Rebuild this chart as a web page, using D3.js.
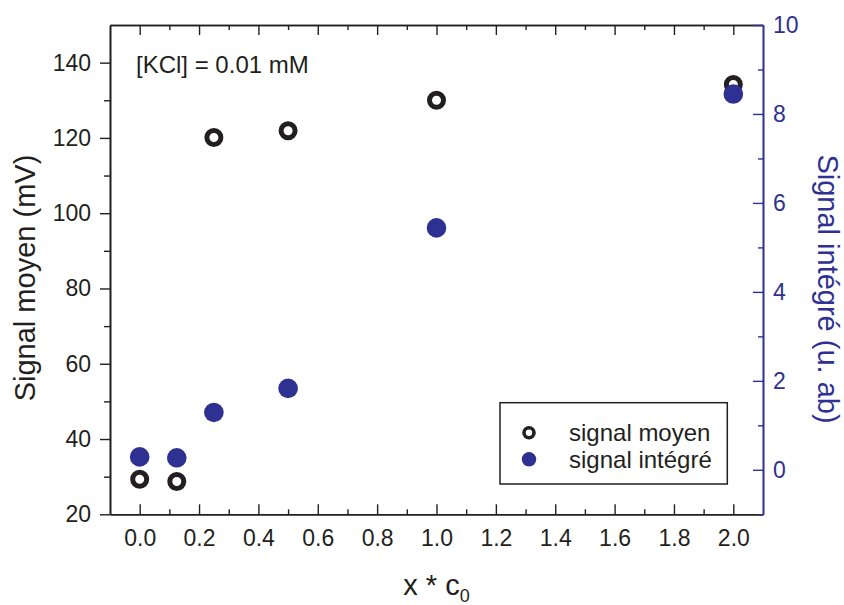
<!DOCTYPE html>
<html>
<head>
<meta charset="utf-8">
<script src="https://cdn.jsdelivr.net/npm/d3@7"></script>
<style>
  html, body { margin: 0; padding: 0; background: #fff; }
  svg { display: block; font-family: "Liberation Sans", Arial, Helvetica, sans-serif; }
</style>
</head>
<body>
<svg id="chart" width="844" height="605"></svg>
<script>
// ---- data ----
const xValues = [0, 0.125, 0.25, 0.5, 1.0, 2.0];
const signalMoyen = [29.3, 28.7, 120.1, 121.9, 130.0, 134.2];
const signalIntegre = [0.29, 0.27, 1.29, 1.83, 5.44, 8.45];
const xTicks = [0, 0.2, 0.4, 0.6, 0.8, 1.0, 1.2, 1.4, 1.6, 1.8, 2.0];
const xMinorTicks = [0.1, 0.3, 0.5, 0.7, 0.9, 1.1, 1.3, 1.5, 1.7, 1.9];
const yLeftTicks = [20, 40, 60, 80, 100, 120, 140];
const yLeftMinor = [30, 50, 70, 90, 110, 130];
const yRightTicks = [0, 2, 4, 6, 8, 10];
const yRightMinor = [-1, 1, 3, 5, 7, 9];
const seriesNames = ["signal moyen", "signal intégré"];
const annotation = "[KCl] = 0.01 mM";

const dark = "#231f20";
const blue = "#2e3192";

const svg = d3.select("#chart");
const L = 110, R = 763, T = 25, B = 514.3;

const x = d3.scaleLinear().domain([-0.1, 2.1]).range([L, R]);
const yL = d3.scaleLinear().domain([20, 150]).range([B, T]);
const yR = d3.scaleLinear().domain([-1, 10]).range([B, T]);

function style(g, color, fs) {
  g.selectAll("path.domain").attr("stroke", color).attr("stroke-width", 1.6);
  g.selectAll(".tick line").attr("stroke", color).attr("stroke-width", 1.4);
  g.selectAll(".tick text").attr("fill", color).attr("font-size", fs)
    .attr("font-family", "'Liberation Sans', Arial, Helvetica, sans-serif");
}

// bottom axis
const gB = svg.append("g").attr("transform", `translate(0,${B})`)
  .call(d3.axisBottom(x).tickValues(xTicks).tickFormat(d3.format(".1f")).tickSize(-10).tickPadding(15).tickSizeOuter(0));
style(gB, dark, 23);
const gBm = svg.append("g").attr("transform", `translate(0,${B})`)
  .call(d3.axisBottom(x).tickValues(xMinorTicks).tickFormat("").tickSize(-5).tickSizeOuter(0));
style(gBm, dark, 23);

// top axis
const gT = svg.append("g").attr("transform", `translate(0,${T})`)
  .call(d3.axisTop(x).tickValues(xTicks).tickFormat("").tickSize(-10).tickSizeOuter(0));
style(gT, dark, 23);
const gTm = svg.append("g").attr("transform", `translate(0,${T})`)
  .call(d3.axisTop(x).tickValues(xMinorTicks).tickFormat("").tickSize(-5).tickSizeOuter(0));
style(gTm, dark, 23);

// left axis
const gL = svg.append("g").attr("transform", `translate(${L},0)`)
  .call(d3.axisLeft(yL).tickValues(yLeftTicks).tickSize(10).tickPadding(9).tickSizeOuter(0));
style(gL, dark, 23);
const gLm = svg.append("g").attr("transform", `translate(${L},0)`)
  .call(d3.axisLeft(yL).tickValues(yLeftMinor).tickFormat("").tickSize(6).tickSizeOuter(0));
style(gLm, dark, 23);

// right axis
const gR = svg.append("g").attr("transform", `translate(${R},0)`)
  .call(d3.axisRight(yR).tickValues(yRightTicks).tickSize(-10).tickPadding(10).tickSizeOuter(0));
style(gR, blue, 23);
const gRm = svg.append("g").attr("transform", `translate(${R},0)`)
  .call(d3.axisRight(yR).tickValues(yRightMinor).tickFormat("").tickSize(-5).tickSizeOuter(0));
style(gRm, blue, 23);

// axis titles
svg.append("text")
  .attr("transform", `translate(35,278) rotate(-90)`)
  .attr("text-anchor", "middle").attr("font-size", 29).attr("fill", dark)
  .text("Signal moyen (mV)");

svg.append("text")
  .attr("transform", `translate(818,289) rotate(90)`)
  .attr("text-anchor", "middle").attr("font-size", 29).attr("fill", blue)
  .text("Signal intégré (u. ab)");

const xt = svg.append("text")
  .attr("x", (L + R) / 2).attr("y", 595)
  .attr("text-anchor", "middle").attr("font-size", 29).attr("fill", dark);
xt.append("tspan").text("x * c");
xt.append("tspan").attr("dy", 7).attr("font-size", 18).text("0");

// annotation
svg.append("text").attr("x", 136).attr("y", 73.3)
  .attr("font-size", 24).attr("fill", dark).text(annotation);

// data
const pts = xValues.map((v, i) => ({ x: v, m: signalMoyen[i], s: signalIntegre[i] }));

svg.append("g").selectAll("circle").data(pts).join("circle")
  .attr("cx", d => x(d.x)).attr("cy", d => yL(d.m))
  .attr("r", 7).attr("fill", "none").attr("stroke", dark).attr("stroke-width", 5);

svg.append("g").selectAll("circle").data(pts).join("circle")
  .attr("cx", d => x(d.x)).attr("cy", d => yR(d.s))
  .attr("r", 9.8).attr("fill", blue);

// legend
const lg = svg.append("g");
lg.append("rect").attr("x", 500).attr("y", 402.7).attr("width", 227.3).attr("height", 81.3)
  .attr("fill", "#fff").attr("stroke", dark).attr("stroke-width", 1.5);
lg.append("circle").attr("cx", 529).attr("cy", 432.7).attr("r", 5)
  .attr("fill", "none").attr("stroke", dark).attr("stroke-width", 3.6);
lg.append("circle").attr("cx", 529).attr("cy", 459.3).attr("r", 7.2).attr("fill", blue);
lg.append("text").attr("x", 569).attr("y", 432.7).attr("dy", "0.35em")
  .attr("font-size", 24).attr("fill", dark).text(seriesNames[0]);
lg.append("text").attr("x", 569).attr("y", 459.3).attr("dy", "0.35em")
  .attr("font-size", 24).attr("fill", dark).text(seriesNames[1]);
</script>
</body>
</html>
